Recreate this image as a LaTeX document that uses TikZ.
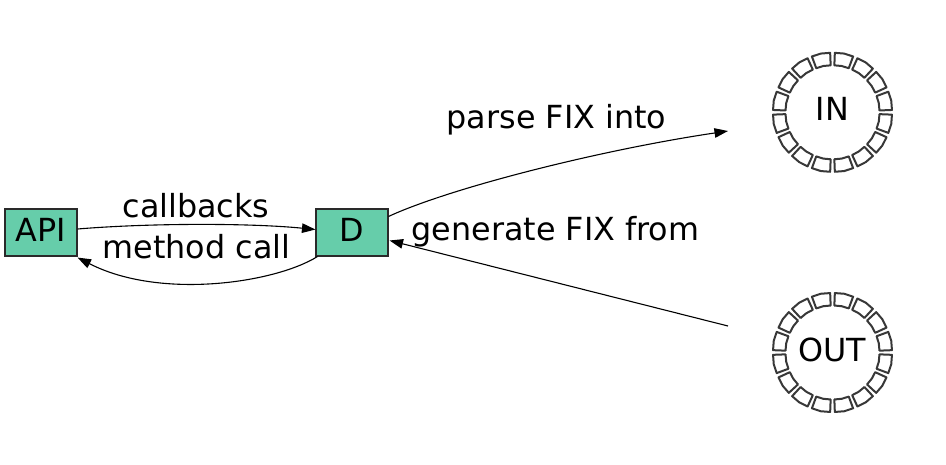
\documentclass[tikz,border=0pt]{standalone}
\usepackage{fontspec}
\setmainfont{DejaVu Sans}
\usetikzlibrary{arrows.meta,calc}
\definecolor{boxfill}{HTML}{66CDAA}
\definecolor{ringcol}{HTML}{383838}
\definecolor{boxline}{HTML}{2A2A2A}
\tikzset{
  every node/.style={font=\fontsize{31.8}{38}\selectfont, inner sep=0pt},
  box/.style={draw=boxline, line width=1.1pt, fill=boxfill, minimum width=72pt, minimum height=47pt, text height=22pt, text depth=5pt},
  ringnode/.style={circle, minimum size=120pt, text height=22pt, text depth=5pt},
  ringseg/.style={draw=ringcol, line width=2pt, line join=round},
  edge/.style={line width=1.1pt, -{Triangle[length=13.5pt,width=9.5pt]}},
  lbl/.style={anchor=base}
}
\begin{document}
\begin{tikzpicture}[x=1pt,y=-1pt]
\useasboundingbox (0,0) rectangle (946,464);
\node[box] (API) at (41,232.5) {API};
\node[box] (D) at (352,232.5) {D};
\node[ringnode] (IN) at (832.5,112.3) {IN};
\node[ringnode] (OUT) at (832.5,352.5) {OUT};
\foreach \c in {IN,OUT}{
  \foreach \k in {0,...,15}{
    \pgfmathsetmacro\a{11.25+22.5*\k}
    \draw[ringseg] ($(\c)+(\a-9:47)$) -- ($(\c)+(\a-9:59.5)$) -- ($(\c)+(\a:59.9)$) -- ($(\c)+(\a+9:59.5)$) -- ($(\c)+(\a+9:47)$) -- ($(\c)+(\a:47.2)$) -- cycle;
  }
}
\coordinate (intip) at (728,131);
\coordinate (outstart) at (728,326);
% callbacks
\draw[edge] ($(API.east)+(0,-3.5)$) .. controls (150,223) and (250,223) .. ($(D.west)+(0,-3)$);
\node[lbl] (lcb) at (196,217) {callbacks};
% method call
\draw[edge] ($(D.south west)+(2,0)$) .. controls (275,283) and (160,300) .. ($(API.south east)+(0,1)$);
\node[lbl] (lmc) at (196.5,258) {method call};
% parse FIX into
\draw[edge] ($(D.north east)+(0,8)$) .. controls (450,188) and (600,150) .. (intip);
\node[lbl] (lpf) at (556.5,128) {parse FIX into};
% generate FIX from
\draw[edge] (outstart) -- ($(D.east)+(1,8)$);
\node[lbl] (lgf) at (555.5,240) {generate FIX from};
\end{tikzpicture}
\end{document}
